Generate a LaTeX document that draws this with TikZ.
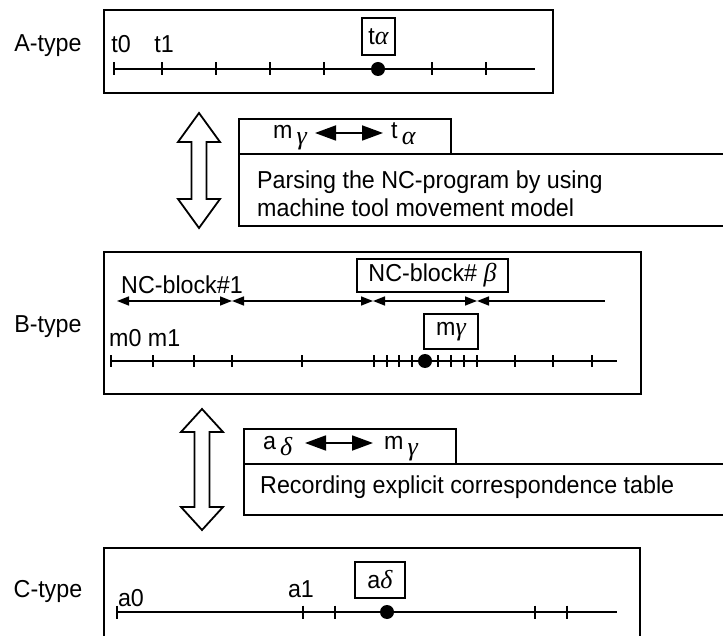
\documentclass[tikz,border=0pt]{standalone}
\usepackage{fontspec}
\setmainfont{Liberation Sans}[FakeStretch=0.95]
\newfontfamily\grk{Liberation Serif}
\usetikzlibrary{arrows.meta}

\newcommand{\gk}[1]{{\grk\itshape\fontsize{26}{28}\selectfont #1}}

\tikzset{
  txt/.style={font=\fontsize{24.5}{28}\selectfont, inner sep=0pt},
  frame/.style={draw, line width=2.2pt},
  axis/.style={line width=1.8pt},
  tagbox/.style={draw, line width=1.8pt, inner sep=0pt, font=\fontsize{24.5}{28}\selectfont},
  panel/.style={draw, line width=1.8pt, inner sep=0pt, anchor=north west},
  bigarrow/.style={draw, line width=1.8pt, fill=white, line join=miter},
  span/.style={line width=1.6pt, {Triangle[length=12pt,width=9pt]}-{Triangle[length=12pt,width=9pt]}},
  spanend/.style={line width=1.6pt, {Triangle[length=12pt,width=9pt]}-},
  corr/.style={line width=1.8pt, {Triangle[length=21pt,width=15pt]}-{Triangle[length=21pt,width=15pt]}},
  dot/.style={circle, fill, inner sep=0pt, minimum size=14pt},
}

% double-headed hollow arrow: centre x, top y, bottom y, head length
\newcommand{\hollowarrow}[4]{%
  \draw[bigarrow] (#1,#2) -- (#1+21,#2+#4) -- (#1+7.5,#2+#4) -- (#1+7.5,#3-#4)
    -- (#1+21,#3-#4) -- (#1,#3) -- (#1-21,#3-#4) -- (#1-7.5,#3-#4)
    -- (#1-7.5,#2+#4) -- (#1-21,#2+#4) -- cycle;}

\begin{document}
\begin{tikzpicture}[x=1pt, y=-1pt]
\useasboundingbox (0,0) rectangle (723,636);
\clip (0,0) rectangle (723,636);

% ---------------- A-type ----------------
\node[txt] (alabel) at (48,46) {A-type};
\draw[frame] (104,10) rectangle (553,93);
\coordinate (as) at (114,69);
\coordinate (ae) at (535,69);
\draw[axis] (as) -- (ae);
\foreach \x in {114,162,216,270,324,432,486}
  \draw[axis] (\x,62.5) -- (\x,75.5);
\node[dot] (adot) at (378,69) {};
\node[txt] (t0) at (121,44) {t0};
\node[txt] (t1) at (164,44) {t1};
\node[tagbox, minimum width=33pt, minimum height=37pt] (talpha) at (378.5,36.5) {t\gk{α}};

% ---------------- A <-> B ----------------
\hollowarrow{199}{113}{228}{29}
\node[panel, minimum width=212pt, minimum height=35pt] (p1top) at (238,118) {};
\node[panel, minimum width=520pt, minimum height=72pt] (p1) at (238,153) {};
\node[txt, anchor=base west] (mg1) at (273,139) {m\,\raisebox{-6pt}{\gk{γ}}};
\node[txt, anchor=base west] (ta1) at (391,139) {t\,\raisebox{-6pt}{\gk{α}}};
\coordinate (c1l) at (315,133);
\coordinate (c1r) at (383,133);
\draw[corr] (c1l) -- (c1r);
\node[txt, anchor=west] (p1a) at (257,182) {Parsing the NC-program by using};
\node[txt, anchor=west] (p1b) at (257,208) {machine tool movement model};

% ---------------- B-type ----------------
\node[txt] (blabel) at (48,327) {B-type};
\draw[frame] (104,252) rectangle (641,394);
\coordinate (n0) at (117,301);
\coordinate (n1) at (232,301);
\coordinate (n2) at (373,301);
\coordinate (n3) at (477,301);
\coordinate (n4) at (605,301);
\draw[span] (n0) -- (n1);
\draw[span] (n1) -- (n2);
\draw[span] (n2) -- (n3);
\draw[spanend] (n3) -- (n4);
\node[txt, anchor=west] (nc1) at (121,285) {NC-block\#1};
\node[tagbox, minimum width=151pt, minimum height=33pt] (ncb) at (432.5,275.5) {NC-block\# \gk{β}};
\coordinate (bs) at (111,361);
\coordinate (be) at (617,361);
\draw[axis] (bs) -- (be);
\foreach \x in {111,153,194,232,302,374,387,399,412,438,451,464,477,515,553,592}
  \draw[axis] (\x,355) -- (\x,367);
\node[dot] (bdot) at (425,361) {};
\node[txt, anchor=west] (m01) at (109,338) {m0 m1};
\node[tagbox, minimum width=54pt, minimum height=35pt] (mgamma) at (451,331.5) {m\gk{γ}};

% ---------------- B <-> C ----------------
\hollowarrow{202}{409}{530}{23}
\node[panel, minimum width=212pt, minimum height=35pt] (p2top) at (243,428) {};
\node[panel, minimum width=520pt, minimum height=51pt] (p2) at (243,463) {};
\node[txt, anchor=base west] (ad2) at (263,449) {a\,\raisebox{-6pt}{\gk{δ}}};
\node[txt, anchor=base west] (mg2) at (384,449) {m\,\raisebox{-6pt}{\gk{γ}}};
\coordinate (c2l) at (305,443);
\coordinate (c2r) at (373,443);
\draw[corr] (c2l) -- (c2r);
\node[txt, anchor=west] (p2a) at (260,487) {Recording explicit correspondence table};

% ---------------- C-type ----------------
\node[txt] (clabel) at (48,591) {C-type};
\draw[frame] (104,548) rectangle (640,660);
\coordinate (cs) at (117,612);
\coordinate (ce) at (617,612);
\draw[axis] (cs) -- (ce);
\foreach \x in {117,303,335,535,567}
  \draw[axis] (\x,605.5) -- (\x,618.5);
\node[dot] (cdot) at (387,612) {};
\node[txt] (a0) at (131,598) {a0};
\node[txt] (a1) at (301,589) {a1};
\node[tagbox, minimum width=50pt, minimum height=36pt] (adelta) at (380,580) {a\gk{δ}};
\end{tikzpicture}
\end{document}
